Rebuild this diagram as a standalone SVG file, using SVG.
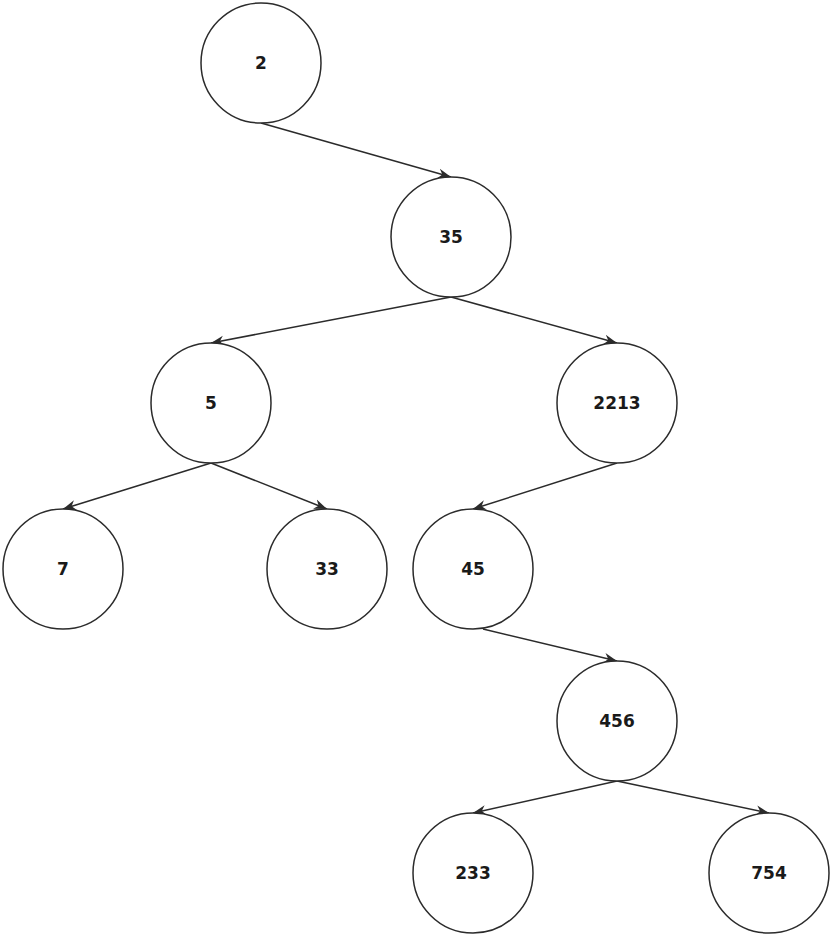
<svg xmlns="http://www.w3.org/2000/svg" width="830" height="934" viewBox="0 0 830 934">
<style>
.n circle{fill:#fff;stroke:#2b2b2b;stroke-width:1.5}
.n text{font-family:"DejaVu Sans","Liberation Sans",sans-serif;font-size:17px;font-weight:bold;fill:#1a1a1a;text-anchor:middle;dominant-baseline:central}
.e line{stroke:#2b2b2b;stroke-width:1.5;fill:none;marker-end:url(#arr)}
</style>
<defs>
<marker id="arr" markerUnits="userSpaceOnUse" viewBox="0 0 14 11" refX="13" refY="5.5" markerWidth="14" markerHeight="11" orient="auto">
<path d="M0,0.5 L13,5.5 L0,10.5 L4,5.5 Z" fill="#2b2b2b"/>
</marker>
</defs>
<rect width="830" height="934" fill="#fff"/>
<g id="connectors" class="e">
<line x1="261" y1="123" x2="451" y2="177"/>
<line x1="451" y1="297" x2="211" y2="343"/>
<line x1="451" y1="297" x2="617" y2="343"/>
<line x1="211" y1="463" x2="63" y2="509"/>
<line x1="211" y1="463" x2="327" y2="509"/>
<line x1="617" y1="463" x2="473" y2="509"/>
<line x1="483" y1="629" x2="617" y2="661"/>
<line x1="617" y1="781" x2="473" y2="813"/>
<line x1="617" y1="781" x2="769" y2="813"/>
</g>
<g id="n2" class="n"><circle cx="261" cy="63" r="60"/><text x="261" y="63">2</text></g>
<g id="n35" class="n"><circle cx="451" cy="237" r="60"/><text x="451" y="237">35</text></g>
<g id="n5" class="n"><circle cx="211" cy="403" r="60"/><text x="211" y="403">5</text></g>
<g id="n2213" class="n"><circle cx="617" cy="403" r="60"/><text x="617" y="403">2213</text></g>
<g id="n7" class="n"><circle cx="63" cy="569" r="60"/><text x="63" y="569">7</text></g>
<g id="n33" class="n"><circle cx="327" cy="569" r="60"/><text x="327" y="569">33</text></g>
<g id="n45" class="n"><circle cx="473" cy="569" r="60"/><text x="473" y="569">45</text></g>
<g id="n456" class="n"><circle cx="617" cy="721" r="60"/><text x="617" y="721">456</text></g>
<g id="n233" class="n"><circle cx="473" cy="873" r="60"/><text x="473" y="873">233</text></g>
<g id="n754" class="n"><circle cx="769" cy="873" r="60"/><text x="769" y="873">754</text></g>
</svg>
